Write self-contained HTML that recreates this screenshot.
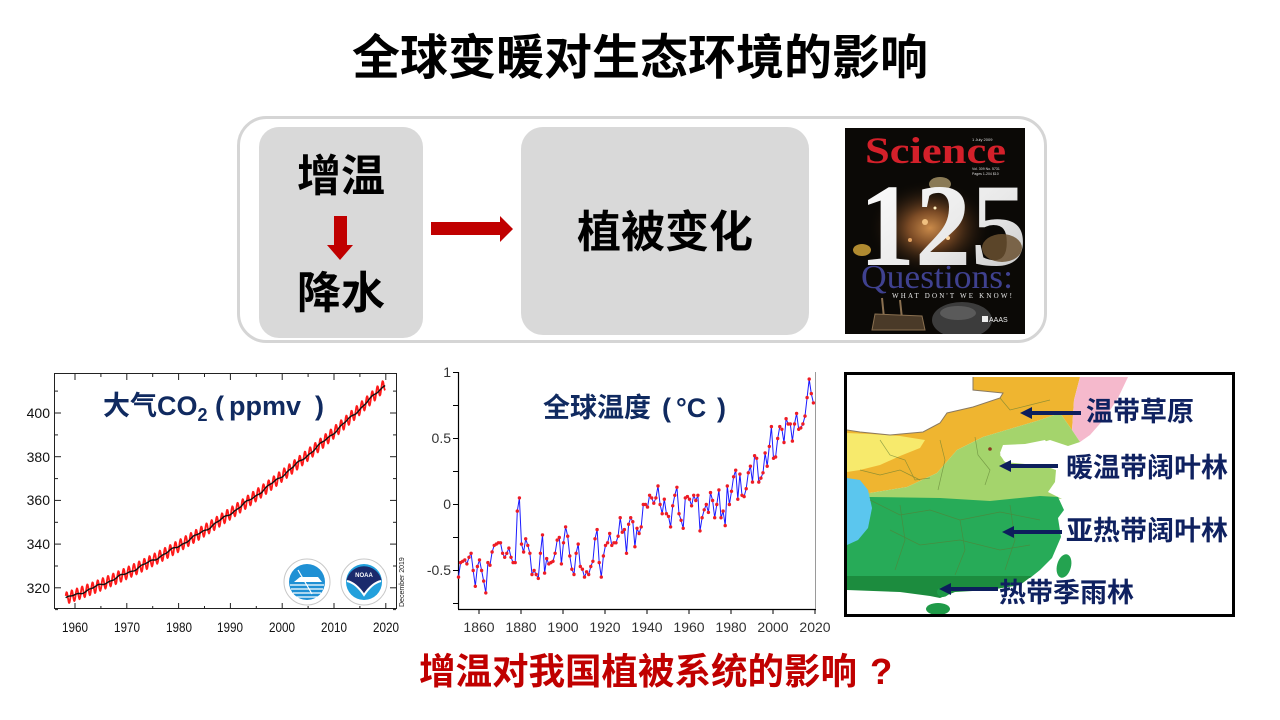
<!DOCTYPE html>
<html><head><meta charset="utf-8">
<style>
html,body{margin:0;padding:0;width:1280px;height:720px;overflow:hidden;background:#fff}
svg{position:absolute;left:0;top:0}
.cj{font-family:"Liberation Sans","Noto Sans CJK SC",sans-serif;font-weight:bold}
.ax{font-family:"Liberation Sans",sans-serif}
.sf{font-family:"Liberation Serif",serif}
</style></head>
<body>
<svg width="1280" height="720" viewBox="0 0 1280 720" xmlns="http://www.w3.org/2000/svg">
<defs>
 <radialGradient id="neb" cx="50%" cy="50%" r="50%">
  <stop offset="0" stop-color="#c98a4a"/>
  <stop offset="0.35" stop-color="#7a4a25"/>
  <stop offset="1" stop-color="#0a0805" stop-opacity="0"/>
 </radialGradient>
 <linearGradient id="num" x1="0" y1="0" x2="1" y2="1">
  <stop offset="0" stop-color="#ffffff"/>
  <stop offset="0.6" stop-color="#e8e8e8"/>
  <stop offset="1" stop-color="#c0c0c0"/>
 </linearGradient>
 <clipPath id="cov"><rect x="845" y="128" width="180" height="206"/></clipPath>
 <clipPath id="mapc"><rect x="847" y="375" width="385" height="239"/></clipPath>
</defs>

<!-- Title -->
<text class="cj" x="640" y="74" font-size="48" text-anchor="middle" fill="#000">全球变暖对生态环境的影响</text>

<!-- Top flow box -->
<rect x="238.5" y="117.5" width="807" height="224" rx="28" fill="none" stroke="#d5d5d5" stroke-width="3"/>
<rect x="259" y="127" width="164" height="211" rx="20" fill="#d9d9d9"/>
<rect x="521" y="127" width="288" height="208" rx="22" fill="#d9d9d9"/>
<text class="cj" x="341" y="191" font-size="44" text-anchor="middle" fill="#000">增温</text>
<polygon points="334,216 347,216 347,245 353,245 340,260 327,245 334,245" fill="#c00000"/>
<text class="cj" x="341" y="308" font-size="44" text-anchor="middle" fill="#000">降水</text>
<polygon points="431,222 500,222 500,216 513,229 500,242 500,235 431,235" fill="#c00000"/>
<text class="cj" x="665" y="247" font-size="44" text-anchor="middle" fill="#000">植被变化</text>

<!-- Science cover -->
<g clip-path="url(#cov)">
 <rect x="845" y="128" width="180" height="206" fill="#0b0906"/>
 <ellipse cx="930" cy="228" rx="62" ry="48" fill="url(#neb)"/>
 <circle cx="925" cy="222" r="3" fill="#f0c080"/>
 <circle cx="948" cy="238" r="2" fill="#ffd9a0"/>
 <circle cx="910" cy="240" r="2" fill="#e0a060"/>
 <circle cx="935" cy="208" r="1.5" fill="#fff0c0"/>
 <text class="sf" x="865" y="163" font-size="37" font-weight="bold" fill="#d4202a" textLength="141" lengthAdjust="spacingAndGlyphs">Science</text>
 <text class="ax" x="972" y="141" font-size="4" fill="#ddd">1 July 2009</text>
 <text class="ax" x="972" y="170" font-size="3.5" fill="#ddd">Vol. 309   No. 5731</text>
 <text class="ax" x="972" y="175" font-size="3.5" fill="#ddd">Pages 1-204    $10</text>
 <ellipse cx="940" cy="184" rx="11" ry="7" fill="#8a7a55"/>
 <ellipse cx="862" cy="250" rx="9" ry="6" fill="#b08a30"/>
 <text class="sf" x="859" y="265" font-size="118" font-weight="bold" fill="url(#num)" textLength="168" lengthAdjust="spacingAndGlyphs">125</text>
 <ellipse cx="1002" cy="248" rx="20" ry="14" fill="#6a5030" opacity="0.85"/>
 <ellipse cx="962" cy="320" rx="30" ry="18" fill="#3c3c3c"/>
 <ellipse cx="958" cy="313" rx="18" ry="7" fill="#5a5a5a"/>
 <path d="M882,298 L885,328 M900,300 L903,328" stroke="#8a7050" stroke-width="2" fill="none"/>
 <path d="M875,314 L922,316 L925,330 L872,330 Z" fill="#4a3a28" stroke="#8a7050" stroke-width="1"/>
 <text class="sf" x="861" y="288" font-size="34" fill="#3f418f" textLength="152" lengthAdjust="spacingAndGlyphs">Questions:</text>
 <text class="sf" x="892" y="298" font-size="7" fill="#e8e8e8" textLength="120" lengthAdjust="spacing">WHAT DON'T WE KNOW!</text>
 <rect x="982" y="316" width="6" height="6" fill="#eee"/>
 <text class="ax" x="989" y="322" font-size="7" fill="#eee">AAAS</text>
</g>

<!-- CO2 chart -->
<rect x="54.5" y="373.5" width="342" height="235" fill="none" stroke="#222" stroke-width="1"/>
<g stroke="#222" stroke-width="1" id="co2ticks"></g>
<g class="ax" font-size="14" fill="#111" text-anchor="end">
 <text x="50" y="418">400</text>
 <text x="50" y="462">380</text>
 <text x="50" y="505">360</text>
 <text x="50" y="549">340</text>
 <text x="50" y="593">320</text>
</g>
<g class="ax" font-size="14" fill="#111" text-anchor="middle">
 <text x="75" y="632" textLength="26" lengthAdjust="spacingAndGlyphs">1960</text>
 <text x="127" y="632" textLength="26" lengthAdjust="spacingAndGlyphs">1970</text>
 <text x="179" y="632" textLength="26" lengthAdjust="spacingAndGlyphs">1980</text>
 <text x="230" y="632" textLength="26" lengthAdjust="spacingAndGlyphs">1990</text>
 <text x="282" y="632" textLength="26" lengthAdjust="spacingAndGlyphs">2000</text>
 <text x="334" y="632" textLength="26" lengthAdjust="spacingAndGlyphs">2010</text>
 <text x="386" y="632" textLength="26" lengthAdjust="spacingAndGlyphs">2020</text>
</g>
<path id="co2r" d="" fill="none" stroke="#ff1a1a" stroke-width="1.8" stroke-linejoin="round"/>
<path id="co2b" d="" fill="none" stroke="#111" stroke-width="1.4"/>
<text class="cj" font-size="27" fill="#102a60"><tspan x="103" y="415">大气CO</tspan><tspan font-size="18" y="421">2</tspan><tspan x="215" y="415">(</tspan><tspan x="229" y="415">ppmv</tspan><tspan x="315" y="415">)</tspan></text>
<!-- logos -->
<circle cx="307" cy="582" r="23" fill="#fff" stroke="#c8c8c8" stroke-width="1"/>
<circle cx="307" cy="582" r="18" fill="#1f90d4"/>
<path d="M290,585 H324 M291,589 H323 M293,593 H321 M296,597 H318" stroke="#fff" stroke-width="1.2"/>
<path d="M294,582 L300,577 L318,577 L322,582 Z" fill="#fff"/>
<path d="M298,570 L312,594" stroke="#fff" stroke-width="1.2"/>
<circle cx="364" cy="582" r="23" fill="#fff" stroke="#c8c8c8" stroke-width="1"/>
<circle cx="364" cy="582" r="18" fill="#22a0dc"/>
<path d="M346.5,580 A18,18 0 0 1 381.5,580 Q374,584 364,594 Q354,584 346.5,580 Z" fill="#1b2a6c"/>
<path d="M347,581 Q356,583 364,595 Q372,583 381,581" stroke="#fff" stroke-width="2" fill="none"/>
<text class="ax" x="364" y="577" font-size="6" font-weight="bold" fill="#fff" text-anchor="middle">NOAA</text>
<text class="ax" transform="translate(404,607) rotate(-90)" font-size="7" fill="#222">December 2019</text>

<!-- Temperature chart -->
<line x1="458.5" y1="372" x2="458.5" y2="609" stroke="#000" stroke-width="1.2"/>
<line x1="458" y1="609.5" x2="816" y2="609.5" stroke="#000" stroke-width="1.2"/>
<line x1="815.5" y1="372" x2="815.5" y2="609" stroke="#9a9a9a" stroke-width="1"/>
<g stroke="#000" stroke-width="1">
 <line x1="453" y1="372.5" x2="458" y2="372.5"/>
 <line x1="453" y1="405.5" x2="458" y2="405.5"/>
 <line x1="453" y1="438.5" x2="458" y2="438.5"/>
 <line x1="453" y1="471.5" x2="458" y2="471.5"/>
 <line x1="453" y1="504.5" x2="458" y2="504.5"/>
 <line x1="453" y1="537.5" x2="458" y2="537.5"/>
 <line x1="453" y1="570.5" x2="458" y2="570.5"/>
 <line x1="453" y1="603.5" x2="458" y2="603.5"/>
 <line x1="479" y1="609" x2="479" y2="614"/>
 <line x1="521" y1="609" x2="521" y2="614"/>
 <line x1="563" y1="609" x2="563" y2="614"/>
 <line x1="605" y1="609" x2="605" y2="614"/>
 <line x1="647" y1="609" x2="647" y2="614"/>
 <line x1="689" y1="609" x2="689" y2="614"/>
 <line x1="731" y1="609" x2="731" y2="614"/>
 <line x1="773" y1="609" x2="773" y2="614"/>
 <line x1="815" y1="609" x2="815" y2="614"/>
</g>
<g class="ax" font-size="14" fill="#333" text-anchor="end">
 <text x="451" y="377">1</text>
 <text x="451" y="443">0.5</text>
 <text x="451" y="509">0</text>
 <text x="451" y="575">-0.5</text>
</g>
<g class="ax" font-size="14" fill="#333" text-anchor="middle">
 <text x="479" y="632">1860</text>
 <text x="521" y="632">1880</text>
 <text x="563" y="632">1900</text>
 <text x="605" y="632">1920</text>
 <text x="647" y="632">1940</text>
 <text x="689" y="632">1960</text>
 <text x="731" y="632">1980</text>
 <text x="773" y="632">2000</text>
 <text x="815" y="632">2020</text>
</g>
<path id="tline" d="" fill="none" stroke="#1a1aff" stroke-width="1"/>
<g id="tdots" fill="#ee1c25"></g>
<text class="cj" font-size="27" fill="#102a60"><tspan x="543" y="417">全球温度</tspan><tspan x="662" y="417">(</tspan><tspan x="676" y="417">°C</tspan><tspan x="717" y="417">)</tspan></text>

<!-- Map -->
<g clip-path="url(#mapc)">
 <rect x="845" y="372" width="390" height="245" fill="#fff"/>
 <polygon fill="#efb530" points="847,430 860,432 890,435 923,432 940,423 947,413 973,407 1000,398 1003,393 973,390 973,377 1080,377 1074,400 1072,430 1060,413 1040,420 1013,428 983,437 957,450 937,473 907,487 870,493 847,492"/>
 <polygon fill="#f7ea6c" points="847,433 870,434 900,436 925,440 920,448 900,456 880,465 860,470 847,472"/>
 <polygon fill="#f5b9cc" points="1080,377 1128,377 1118,398 1105,418 1090,435 1080,442 1072,430 1074,400"/>
 <polygon fill="#a4d46c" points="847,492 870,493 907,487 937,473 957,450 983,437 1013,428 1040,420 1060,413 1072,430 1080,442 1068,446 1050,440 1040,443 1025,446 1005,447 1000,455 1005,462 1025,464 1045,466 1056,470 1055,482 1048,492 1062,499 1040,497 990,502 940,499 870,498 847,498"/>
 <polygon fill="#fff" points="1003,445 1025,444 1045,440 1050,447 1046,456 1040,462 1022,463 1004,461 1000,453"/>
 <polygon fill="#27ab58" points="847,497 870,497 940,498 990,501 1040,496 1058,497 1064,510 1058,518 1061,537 1052,558 1040,570 1030,578 847,580"/>
 <polygon fill="#1c8c3e" points="847,576 1032,576 1020,585 990,590 955,592 940,598 930,596 900,592 847,590"/>
 <polygon fill="#5bc6ee" points="847,478 860,480 868,490 872,508 868,528 858,540 847,545"/>
 <ellipse cx="938" cy="609" rx="12" ry="6" fill="#1f9a48"/>
 <ellipse cx="943" cy="592" rx="6" ry="5" fill="#1f9a48"/>
 <ellipse cx="1064" cy="566" rx="7" ry="12" fill="#24a350" transform="rotate(15 1064 566)"/>
 <polyline fill="none" stroke="#8a7a60" stroke-width="1" points="847,430 860,432 890,435 923,432 940,423 947,413 973,407 1000,398 1003,393 973,390 973,377"/>
 <g fill="none" stroke="#5a7a30" stroke-width="0.7" opacity="0.6">
  <polyline points="880,440 890,455 905,460 915,480 930,478"/>
  <polyline points="940,440 945,460 938,490"/>
  <polyline points="975,437 978,455 990,470 985,485"/>
  <polyline points="1000,398 1010,410 1030,405 1050,400"/>
  <polyline points="870,500 900,515 930,510 960,520 1000,512 1040,520"/>
  <polyline points="890,530 920,545 960,540 1000,550 1030,545"/>
  <polyline points="900,505 905,540 895,570"/>
  <polyline points="960,520 965,550 955,575"/>
  <polyline points="1010,505 1015,540 1005,570"/>
  <polyline points="860,470 880,475 900,470 920,480"/>
 </g>
 <circle cx="990" cy="449" r="1.8" fill="#8a3a20"/>
</g>
<rect x="845.5" y="373.5" width="388" height="242" fill="none" stroke="#000" stroke-width="3"/>
<g fill="#0d1f5c">
 <rect x="1030" y="411" width="51" height="4"/><polygon points="1020,413 1032,407 1032,419"/>
 <rect x="1010" y="464" width="48" height="4"/><polygon points="999,466 1011,460 1011,472"/>
 <rect x="1013" y="530" width="49" height="4"/><polygon points="1002,532 1014,526 1014,538"/>
 <rect x="950" y="587" width="48" height="4"/><polygon points="939,589 951,583 951,595"/>
</g>
<g class="cj" font-size="27" fill="#0f2160">
 <text x="1086" y="421">温带草原</text>
 <text x="1066" y="477">暖温带阔叶林</text>
 <text x="1066" y="540">亚热带阔叶林</text>
 <text x="999" y="602">热带季雨林</text>
</g>

<!-- Bottom question -->
<text class="cj" font-size="36.5" fill="#c00000"><tspan x="419" y="684">增温对我国植被系统的影响</tspan><tspan x="870" y="684">?</tspan></text>
</svg>

<script>
(function(){
 var r="",b="",t;
 for(var k=0;;k++){
  t=1958.2+k/12; if(t>2019.93)break;
  var d=t-1958,f=t-Math.floor(t);
  var tr=315+0.827*d+0.01224*d*d;
  var v=tr+2.7*Math.cos(2*Math.PI*(f-0.38));
  var x=75+(t-1960)*5.18;
  r+=(k?"L":"M")+x.toFixed(1)+","+(413+(400-v)*2.185).toFixed(1);
  var vb=tr+0.4*Math.sin(d*1.3)+0.25*Math.sin(d*3.1);
  b+=(k?"L":"M")+x.toFixed(1)+","+(413+(400-vb)*2.185).toFixed(1);
 }
 document.getElementById("co2r").setAttribute("d",r);
 document.getElementById("co2b").setAttribute("d",b);
 var tk="";
 function yv(v){return 413+(400-v)*2.185;}
 for(var v=310;v<=410;v+=10){var yy=yv(v).toFixed(1),L=(v%20==0)?6:3;
  tk+='<line x1="55" y1="'+yy+'" x2="'+(55+L)+'" y2="'+yy+'"/><line x1="396" y1="'+yy+'" x2="'+(396-L)+'" y2="'+yy+'"/>';}
 for(var yr=1960;yr<=2020;yr+=5){var xx=(75+(yr-1960)*5.18).toFixed(1),L2=(yr%10==0)?6:3;
  tk+='<line x1="'+xx+'" y1="609" x2="'+xx+'" y2="'+(609-L2)+'"/><line x1="'+xx+'" y1="374" x2="'+xx+'" y2="'+(374+L2)+'"/>';}
 document.getElementById("co2ticks").innerHTML=tk;

 var T=[-0.55,-0.44,-0.43,-0.42,-0.45,-0.40,-0.37,-0.50,-0.62,-0.47,
 -0.42,-0.50,-0.58,-0.67,-0.44,-0.46,-0.36,-0.31,-0.30,-0.29,
 -0.29,-0.37,-0.40,-0.37,-0.33,-0.40,-0.44,-0.44,-0.05,0.05,
 -0.30,-0.36,-0.26,-0.31,-0.37,-0.53,-0.50,-0.53,-0.56,-0.37,
 -0.23,-0.52,-0.41,-0.45,-0.44,-0.43,-0.37,-0.27,-0.25,-0.45,
 -0.29,-0.17,-0.24,-0.39,-0.49,-0.53,-0.37,-0.30,-0.47,-0.49,
 -0.55,-0.51,-0.53,-0.47,-0.43,-0.26,-0.19,-0.44,-0.55,-0.39,
 -0.31,-0.29,-0.22,-0.31,-0.29,-0.29,-0.24,-0.10,-0.21,-0.19,
 -0.37,-0.15,-0.10,-0.13,-0.32,-0.18,-0.22,-0.17,0.00,0.00,
 -0.02,0.07,0.05,0.01,0.05,0.14,0.00,-0.07,0.04,-0.07,
 -0.09,-0.17,-0.01,0.07,0.13,-0.07,-0.12,-0.18,0.05,0.06,
 0.04,-0.01,0.07,0.03,0.07,-0.20,-0.10,-0.04,0.00,-0.06,
 0.09,0.03,-0.10,0.00,0.11,-0.10,-0.05,-0.16,0.14,0.00,
 0.10,0.21,0.26,0.04,0.23,0.07,0.06,0.12,0.24,0.29,
 0.17,0.37,0.35,0.17,0.20,0.24,0.39,0.29,0.44,0.59,
 0.35,0.36,0.50,0.59,0.57,0.47,0.65,0.61,0.61,0.48,
 0.61,0.69,0.57,0.58,0.61,0.67,0.81,0.95,0.84,0.77];
 var p="",c="";
 for(var i=0;i<T.length;i++){
  var x=458.5+i*2.1,y=504.5-T[i]*132;
  p+=(i?"L":"M")+x.toFixed(1)+","+y.toFixed(1);
  c+='<circle cx="'+x.toFixed(1)+'" cy="'+y.toFixed(1)+'" r="1.7"/>';
 }
 document.getElementById("tline").setAttribute("d",p);
 document.getElementById("tdots").innerHTML=c;
})();
</script>
</body></html>
